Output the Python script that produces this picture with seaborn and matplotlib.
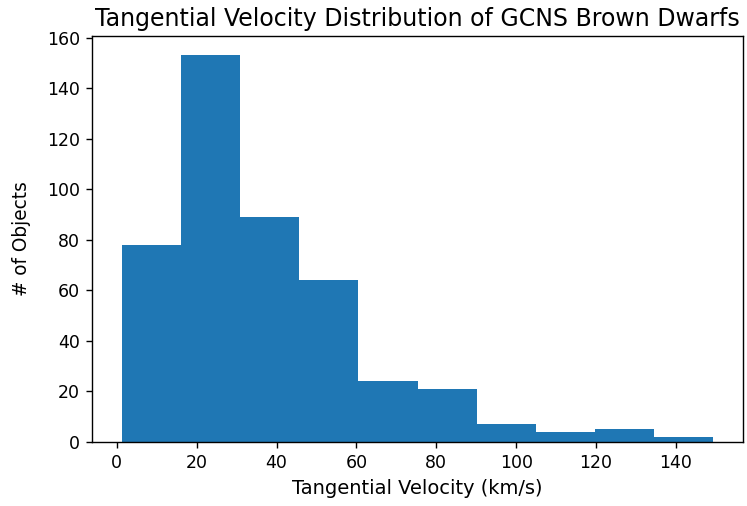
import matplotlib
matplotlib.use("Agg")
import matplotlib.pyplot as plt
import seaborn as sns
import numpy as np
import pandas as pd

# Data
bin_edges = [1.2, 16.0, 30.8, 45.7, 60.5, 75.3, 90.1, 104.9, 119.8, 134.6, 149.4]
counts = [78, 153, 89, 64, 24, 21, 7, 4, 5, 2]
title = "Tangential Velocity Distribution of GCNS Brown Dwarfs"
xlabel = "Tangential Velocity (km/s)"
ylabel = "# of Objects"

edges = np.array(bin_edges)
centers = (edges[:-1] + edges[1:]) / 2
df = pd.DataFrame({"velocity": centers, "count": counts})

sns.set_style("ticks")
plt.rcParams["font.family"] = ["DejaVu Sans"]
plt.rcParams["text.color"] = "black"
plt.rcParams["axes.labelcolor"] = "black"
plt.rcParams["axes.linewidth"] = 0.8
plt.rcParams["xtick.major.width"] = 0.8
plt.rcParams["ytick.major.width"] = 0.8
plt.rcParams["xtick.major.size"] = 3.5
plt.rcParams["ytick.major.size"] = 3.5

dpi = 125
fig = plt.figure(figsize=(747 / dpi, 506 / dpi), dpi=dpi)
ax = fig.add_axes([92 / 747, 64 / 506, (743 - 92) / 747, (442 - 36) / 506])

sns.histplot(data=df, x="velocity", weights="count", bins=bin_edges,
             stat="count", color="#1f77b4", alpha=1, linewidth=0, ax=ax)

ax.set_ylim(0, 160.65)
ax.set_xticks([0, 20, 40, 60, 80, 100, 120, 140])
ax.set_yticks([0, 20, 40, 60, 80, 100, 120, 140, 160])
ax.set_title(title, fontsize=13.6, color="black")
ax.set_xlabel(xlabel, fontsize=11.2, color="black")
ax.set_ylabel(ylabel, fontsize=10.7, color="black", labelpad=9)
ax.tick_params(labelsize=10, colors="black")
for s in ax.spines.values():
    s.set_visible(True)
    s.set_color("black")

fig.savefig("out.png", dpi=dpi)
